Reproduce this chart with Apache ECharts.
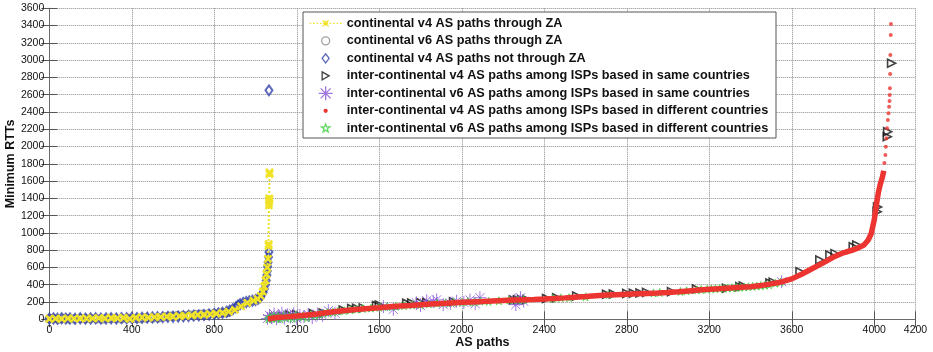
<!DOCTYPE html>
<html>
<head>
<meta charset="utf-8">
<script src="https://cdn.jsdelivr.net/npm/echarts@6/dist/echarts.min.js"></script>
<style>
  html, body { margin: 0; padding: 0; background: #fff; }
  #chart { width: 933px; height: 352px; }
</style>
</head>
<body>
<div id="chart"></div>
<script>
// Axis ranges / ticks
const xRange = [0, 4200];
const xStep = 400;
const yRange = [0, 3600];
const yStep = 200;

const seriesNames = [
  'continental v4 AS paths through ZA',
  'continental v6 AS paths through ZA',
  'continental v4 AS paths not through ZA',
  'inter-continental v4 AS paths among ISPs based in same countries',
  'inter-continental v6 AS paths among ISPs based in same countries',
  'inter-continental v4 AS paths among ISPs based in different countries',
  'inter-continental v6 AS paths among ISPs based in different countries'
];

// [AS path index, minimum RTT]
const contV4ZA = [
  [0,5],[30,8],[60,5],[90,10],[120,8],[150,12],[180,10],[210,12],[240,14],[270,12],
  [300,15],[330,14],[360,18],[390,5],[420,20],[450,22],[480,20],[510,25],[540,28],[570,30],
  [600,32],[630,36],[660,40],[690,45],[720,50],[750,55],[780,60],[810,65],[840,75],[870,90],
  [900,110],[930,150],[960,190],[990,215],[1010,235],[1025,270],[1035,320],[1042,380],[1048,450],[1053,520],
  [1057,600],[1060,700],[1063,850],[1064,870],[1065,1320],[1066,1350],[1066,1380],[1067,1400],[1068,1680],[1068,1700]
];

const contV6ZA = [
  [0,5],[20,8],[45,3],[70,10],[95,6],[120,4],[150,8],[175,5],[200,10],[230,6],
  [260,4],[290,8],[320,10],[350,6],[380,12],[410,8],[440,10],[470,14],[500,12],[530,15],
  [560,30],[590,35],[620,40],[650,45],[680,50],[710,55],[740,58],[770,62],[800,66],[830,70],
  [855,75],[870,80]
];

const contV4NotZA = [
  [0,8],[20,10],[40,6],[60,12],[80,8],[100,10],[125,6],[150,12],[175,8],[200,10],
  [225,12],[250,8],[275,10],[300,12],[325,9],[350,14],[375,12],[400,16],[425,14],[450,18],
  [475,20],[500,22],[525,24],[550,25],[575,28],[600,30],[625,32],[650,35],[675,38],[700,42],
  [725,46],[750,50],[775,55],[800,62],[820,68],[840,76],[860,88],[875,100],[890,118],[905,140],
  [915,160],[925,175],[940,190],[955,200],[970,208],[985,214],[1000,222],[1012,236],[1022,255],[1030,280],
  [1037,310],[1043,350],[1048,400],[1052,450],[1055,510],[1057,560],[1059,610],[1061,660],[1063,720],[1065,780],
  [1065,2650]
];

const interV4Same = [
  [1090,25],[1130,35],[1167,50],[1200,55],[1280,68],[1328,72],[1425,108],[1466,125],[1490,128],[1522,132],
  [1587,160],[1600,165],[1733,185],[1757,188],[1800,195],[1830,195],[1960,204],[2250,225],[2270,226],[2290,228],
  [2315,228],[2411,240],[2460,250],[2557,270],[2702,290],[2735,292],[2800,300],[2832,302],[2864,305],[2896,312],
  [3017,320],[3138,350],[3284,360],[3348,378],[3365,385],[3494,420],[3510,430],[3640,551],[3736,686],[3785,744],
  [3810,760],[3898,840],[3915,860],[4014,1246],[4016,1300],[4063,2114],[4065,2172],[4084,2963]
];

const interV6Same = [
  [1058,10],[1068,45],[1078,20],[1090,60],[1102,5],[1115,35],[1128,70],[1140,15],[1155,50],[1170,25],
  [1185,65],[1200,10],[1215,45],[1235,30],[1255,55],[1275,20],[1300,60],[1325,45],[1353,100],[1385,70],
  [1620,146],[1668,115],[1780,190],[1800,160],[1830,215],[1862,204],[1878,225],[1910,170],[1945,185],[1975,210],
  [2010,195],[2040,223],[2065,180],[2088,250],[2258,225],[2262,170],[2285,250],[2300,210],[3551,435]
];

// dense part of the curve
const interV4Diff = [
  [1060,3],[1080,12],[1100,20],[1150,28],[1200,38],[1250,50],[1300,62],[1350,78],[1400,92],[1450,105],
  [1500,115],[1550,125],[1600,134],[1650,145],[1700,153],[1750,160],[1800,168],[1850,176],[1900,184],[1950,190],
  [2000,196],[2050,201],[2100,205],[2150,211],[2200,217],[2250,222],[2300,226],[2350,230],[2400,235],[2450,241],
  [2500,248],[2550,256],[2600,263],[2650,272],[2700,280],[2750,285],[2800,290],[2850,295],[2900,300],[2950,304],
  [3000,309],[3050,318],[3100,328],[3150,338],[3200,347],[3250,355],[3300,363],[3350,370],[3400,378],[3450,390],
  [3500,410],[3550,432],[3600,468],[3650,525],[3700,588],[3750,650],[3800,718],[3850,770],[3900,805],[3925,830],
  [3950,860],[3970,915],[3985,990],[4000,1150],[4010,1320],[4020,1470],[4030,1570],[4040,1650],[4046,1720]
];
// sparse tail of the same curve
const interV4DiffTail = [
  [4049,1809],[4054,1902],[4056,1998],[4059,2095],[4062,2211],[4066,2307],[4069,2385],[4072,2461],[4074,2527],[4075,2597],
  [4076,2674],[4077,2840],[4078,3060],[4080,3291],[4081,3418]
];

const interV6Diff = [
  [1062,5],[1070,25],[1080,10],[1090,40],[1100,15],[1110,30],[1120,5],[1135,45],[1150,20],[1165,35],
  [1180,10],[1195,50],[1210,30],[1230,40],[1250,20],[1270,55],[1290,45],[1310,60],[1330,70],[1350,80],
  [1375,85],[1400,95],[1430,100],[1460,110],[1490,118],[1520,125],[1560,130],[1600,138],[1640,145],[1680,150],
  [1720,158],[1760,165],[1800,170],[1840,178],[1880,185],[1920,190],[1960,195],[2000,198],[2030,205],[2060,200],
  [2090,210],[2130,208],[2180,215],[2230,222],[2270,225],[2300,228],[2440,240],[2480,248],[2520,250],[2600,260],
  [2710,285],[2930,305],[2960,310],[3060,322],[3090,330],[3140,340],[3160,345],[3190,348],[3210,352],[3230,355],
  [3250,358],[3270,360],[3290,362],[3310,365],[3330,368],[3350,372],[3370,374],[3390,378],[3410,382],[3430,385],
  [3450,390],[3470,395],[3490,400],[3520,418],[3545,430]
];

const C = {
  yellow: '#f0e226',
  gray: '#8a8a8a',
  blue: '#3341a8',
  black: '#111111',
  purple: '#8b52dc',
  red: '#ec3430',
  green: '#3ccf3c'
};

// plot markers
const SYM = {
  cross: 'path://M0,0L10,10M10,0L0,10',
  asterisk: 'path://M0,5L10,5M5,0L5,10M1.5,1.5L8.5,8.5M8.5,1.5L1.5,8.5',
  triRight: 'path://M0,0L10,5L0,10Z',
  star: 'path://M5,0L6.18,3.38L9.76,3.46L6.9,5.62L7.94,9.05L5,7L2.06,9.05L3.1,5.62L0.24,3.46L3.82,3.38Z'
};

// legend icons, all laid out in the same 32x14 box (the leading moves pin the box)
const BOX = 'path://M0,0M32,14';
const LEGEND_ICON = [
  BOX + 'M0,7L1.5,7M3.5,7L5,7M7,7L8.5,7M10.5,7L12,7M13,4L19,10M19,4L13,10M13.5,7L18.5,7M16,4.5L16,9.5' +
        'M20,7L21.5,7M23.5,7L25,7M27,7L28.5,7M30.5,7L32,7',
  BOX + 'M20,7A4,4 0 1,1 12,7A4,4 0 1,1 20,7Z',
  BOX + 'M16,2.5L19.5,7L16,11.5L12.5,7Z',
  BOX + 'M12.5,3L19.5,7L12.5,11Z',
  BOX + 'M9,7L23,7M16,0L16,14M11,2L21,12M21,2L11,12',
  BOX + 'M17.5,7A1.5,1.5 0 1,1 14.5,7A1.5,1.5 0 1,1 17.5,7Z',
  BOX + 'M16,2.5L17.1,5.5L20.3,5.6L17.7,7.5L18.6,10.6L16,8.8L13.4,10.6L14.3,7.5L11.7,5.6L14.9,5.5Z'
];

const FONT = 'Liberation Sans, Arial, sans-serif';
const NONE = 'rgba(0,0,0,0)';

const chart = echarts.init(document.getElementById('chart'), null, { renderer: 'canvas' });

const frameLine = { show: true, lineStyle: { color: '#6a6a6a', width: 1 } };
const innerTick = { show: true, inside: true, length: 8, lineStyle: { color: '#555', width: 1 } };
const dotted = { show: true, lineStyle: { type: 'dotted', color: '#8c8c8c', width: 1 } };
const tickLabel = {
  margin: 5, fontFamily: FONT, fontSize: 10.5, color: '#111',
  formatter: v => String(v)
};
const axisNameStyle = { fontFamily: FONT, fontWeight: 'bold', fontSize: 12.5, color: '#111' };

const option = {
  animation: false,
  backgroundColor: '#fff',
  grid: { left: 49.3, right: 17.5, top: 8.3, bottom: 32.7, outerBoundsMode: 'none' },
  legend: {
    orient: 'vertical',
    left: 309,
    top: 15.7,
    itemWidth: 32,
    itemHeight: 14,
    itemGap: 2.2,
    padding: 0,
    selectedMode: false,
    symbolKeepAspect: false,
    itemStyle: { borderWidth: 1.3 },
    textStyle: { fontFamily: FONT, fontWeight: 'bold', fontSize: 12.7, color: '#111' },
    data: seriesNames.map((n, i) => ({ name: n, icon: LEGEND_ICON[i] })),
    z: 6
  },
  graphic: [{
    type: 'rect',
    shape: { x: 303, y: 12, width: 473, height: 126 },
    style: { fill: '#fff', stroke: '#555', lineWidth: 1 },
    z: 5
  }],
  xAxis: [{
    type: 'value', min: xRange[0], max: xRange[1], interval: xStep,
    name: 'AS paths', nameLocation: 'middle', nameGap: 17, nameMoveOverlap: false,
    nameTextStyle: axisNameStyle,
    axisLine: frameLine, axisTick: innerTick, splitLine: dotted, axisLabel: tickLabel
  }, {
    type: 'value', position: 'top', min: xRange[0], max: xRange[1], interval: xStep,
    axisLine: frameLine, axisTick: innerTick, splitLine: { show: false },
    axisLabel: { show: false }
  }],
  yAxis: [{
    type: 'value', min: yRange[0], max: yRange[1], interval: yStep,
    name: 'Minimum RTTs', nameLocation: 'middle', nameGap: 32, nameMoveOverlap: false,
    nameTextStyle: axisNameStyle,
    axisLine: frameLine, axisTick: innerTick, splitLine: dotted, axisLabel: tickLabel
  }, {
    type: 'value', position: 'right', min: yRange[0], max: yRange[1], interval: yStep,
    axisLine: frameLine, axisTick: innerTick, splitLine: { show: false },
    axisLabel: { show: false }
  }],
  series: [
    {
      name: seriesNames[0], type: 'line', data: contV4ZA,
      symbol: SYM.cross, symbolSize: 7, showSymbol: true, showAllSymbol: true,
      lineStyle: { type: 'dotted', width: 2, color: C.yellow },
      itemStyle: { color: C.yellow, borderColor: C.yellow, borderWidth: 2.5 }
    },
    {
      name: seriesNames[1], type: 'scatter', data: contV6ZA,
      symbol: 'circle', symbolSize: 8,
      itemStyle: { color: NONE, borderColor: C.gray, borderWidth: 1.5 }
    },
    {
      name: seriesNames[2], type: 'scatter', data: contV4NotZA,
      symbol: 'diamond', symbolSize: [7, 10],
      itemStyle: { color: NONE, borderColor: C.blue, borderWidth: 2 }
    },
    {
      name: seriesNames[3], type: 'scatter', data: interV4Same,
      symbol: SYM.triRight, symbolSize: 8,
      itemStyle: { color: NONE, borderColor: C.black, borderWidth: 1.6 }
    },
    {
      name: seriesNames[4], type: 'scatter', data: interV6Same,
      symbol: SYM.asterisk, symbolSize: 13,
      itemStyle: { color: NONE, borderColor: C.purple, borderWidth: 1 }
    },
    {
      name: seriesNames[5], type: 'line', data: interV4Diff,
      showSymbol: false, symbol: 'circle', symbolSize: 4,
      lineStyle: { width: 5.5, color: C.red },
      itemStyle: { color: C.red, borderColor: C.red }
    },
    {
      name: seriesNames[5], type: 'scatter', data: interV4DiffTail,
      symbol: 'circle', symbolSize: 4,
      itemStyle: { color: C.red }
    },
    {
      name: seriesNames[6], type: 'scatter', data: interV6Diff,
      symbol: SYM.star, symbolSize: 8,
      itemStyle: { color: NONE, borderColor: C.green, borderWidth: 1 }
    }
  ]
};

chart.setOption(option);
</script>
</body>
</html>
